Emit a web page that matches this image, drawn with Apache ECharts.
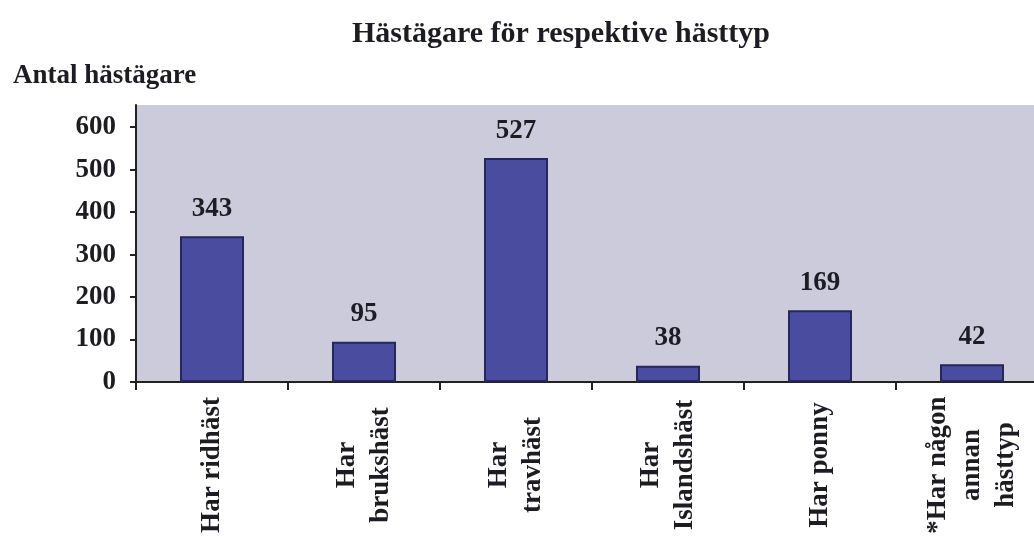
<!DOCTYPE html>
<html><head><meta charset="utf-8">
<script src="https://cdn.jsdelivr.net/npm/echarts@6/dist/echarts.min.js"></script>
<style>html,body{margin:0;padding:0;background:#fff;overflow:hidden;width:1034px;height:539px}#c{width:1048px;height:539px}</style>
</head><body><div id="c"></div>
<script>
const categories = ["Har ridhäst", "Har\nbrukshäst", "Har\ntravhäst", "Har\nIslandshäst", "Har ponny", "*Har någon\nannan\nhästtyp"];
const values = [343, 95, 527, 38, 169, 42];
const yTicks = [0, 100, 200, 300, 400, 500, 600];
const titleText = "Hästägare för respektive hästtyp";
const yName = "Antal hästägare";

const font = '"Liberation Serif", "DejaVu Serif", serif';
const ink = '#1c1c24';
const chart = echarts.init(document.getElementById('c'));
chart.setOption({
  animation: false,
  backgroundColor: '#ffffff',
  title: [
    { text: titleText, left: 347, top: 14, textStyle: { fontFamily: font, fontWeight: 'bold', fontSize: 30, color: ink } },
    { text: yName, left: 8, top: 58, textStyle: { fontFamily: font, fontWeight: 'bold', fontSize: 27, color: ink } }
  ],
  grid: { left: 136, top: 105, right: 0, height: 277, show: true, backgroundColor: '#cbcbdb', borderWidth: 0 },
  xAxis: {
    type: 'category', data: categories,
    axisLine: { lineStyle: { color: '#222', width: 2 } },
    axisTick: { show: true, length: 8, lineStyle: { color: '#222', width: 2 } },
    axisLabel: { rotate: 90, align: 'center', verticalAlign: 'middle', margin: 83, interval: 0,
      fontFamily: font, fontWeight: 'bold', fontSize: 27, lineHeight: 34, color: ink }
  },
  yAxis: {
    type: 'value', min: 0, max: 652, interval: 100,
    splitLine: { show: false },
    axisLine: { show: true, lineStyle: { color: '#222', width: 2 } },
    axisTick: { show: true, length: 6, customValues: yTicks, lineStyle: { color: '#222', width: 2 } },
    axisLabel: { customValues: yTicks, margin: 20, fontFamily: font, fontWeight: 'bold', fontSize: 27, color: ink }
  },
  series: [{
    type: 'bar', data: values, barWidth: 64,
    itemStyle: { color: '#494c9f', borderColor: '#24275a', borderWidth: 2 },
    label: { show: true, position: 'top', distance: 14, fontFamily: font, fontWeight: 'bold', fontSize: 27, color: ink }
  }]
});
</script></body></html>
